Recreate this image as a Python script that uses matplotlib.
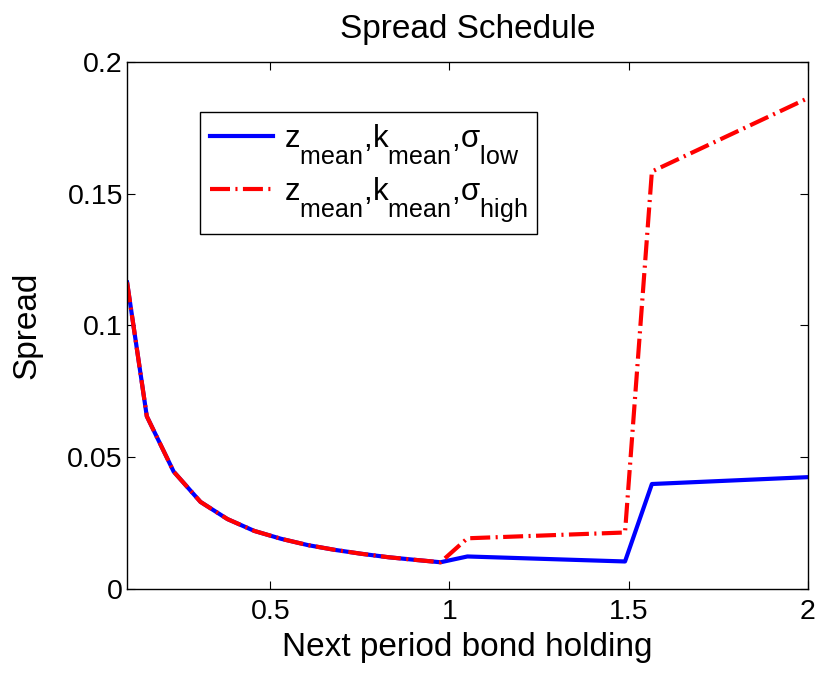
import matplotlib
matplotlib.use("Agg")
import matplotlib.pyplot as plt

plt.rcParams['font.family'] = ['Liberation Sans', 'DejaVu Sans']
plt.rcParams['mathtext.fontset'] = 'custom'
plt.rcParams['mathtext.rm'] = 'Liberation Sans'
plt.rcParams['mathtext.it'] = 'Liberation Sans'

# bigger, lower subscripts like the matlab legend
try:
    import matplotlib._mathtext as _mt
    _mt.SHRINK_FACTOR = 0.8
    _mt.FontConstantsBase.sub1 = 1.0
except Exception:
    pass

# bond holding grid and spreads
bond = [0.1, 0.155, 0.23, 0.305, 0.38, 0.455, 0.53, 0.605, 0.68, 0.755,
        0.83, 0.905, 0.975, 1.05, 1.49, 1.565, 2.0]
spread_low = [0.1163, 0.0655, 0.0445, 0.0330, 0.0265, 0.0220, 0.0190, 0.0166,
              0.0148, 0.0133, 0.0120, 0.0110, 0.0101, 0.0123, 0.0104, 0.0398, 0.0424]
spread_high = [0.1163, 0.0655, 0.0445, 0.0330, 0.0265, 0.0220, 0.0190, 0.0166,
               0.0148, 0.0133, 0.0120, 0.0110, 0.0101, 0.0192, 0.0214, 0.1584, 0.1862]

xticks = [0.5, 1, 1.5, 2]
xticklabels = ['0.5', '1', '1.5', '2']
yticks = [0, 0.05, 0.1, 0.15, 0.2]
yticklabels = ['0', '0.05', '0.1', '0.15', '0.2']

fig = plt.figure(figsize=(8.2, 6.73), dpi=100)
ax = fig.add_axes([0.155, 0.125, 0.83, 0.783])

ax.plot(bond, spread_low, color='#0000ff', lw=3,
        label=r'z$_{\mathrm{mean}}$,k$_{\mathrm{mean}}$,σ$_{\mathrm{low}}$')
ax.plot(bond, spread_high, color='#ff0000', lw=3,
        linestyle=(0, (4.8, 1.3, 0.5, 1.3)),
        label=r'z$_{\mathrm{mean}}$,k$_{\mathrm{mean}}$,σ$_{\mathrm{high}}$')

ax.set_xlim(0.1, 2)
ax.set_ylim(0, 0.2)
ax.set_xticks(xticks)
ax.set_xticklabels(xticklabels)
ax.set_yticks(yticks)
ax.set_yticklabels(yticklabels)
ax.tick_params(direction='in', length=6, width=0.8, top=True, right=True,
               labelsize=20.5)
ax.tick_params(axis='x', pad=7)
ax.tick_params(axis='y', pad=3)
for s in ax.spines.values():
    s.set_linewidth(1.0)

ax.set_xlabel('Next period bond holding', fontsize=24, labelpad=5)
ax.set_ylabel('Spread', fontsize=24, labelpad=18)
ax.set_title('Spread Schedule', fontsize=24, pad=17)

leg = ax.legend(loc='upper left', bbox_to_anchor=(0.107, 0.905), borderaxespad=0,
                fontsize=22.5, handlelength=2.0, fancybox=False, framealpha=1,
                edgecolor='black', borderpad=0.33, labelspacing=0.3,
                handletextpad=0.35)
leg.get_frame().set_linewidth(1.0)

fig.savefig('out.png', dpi=100)
